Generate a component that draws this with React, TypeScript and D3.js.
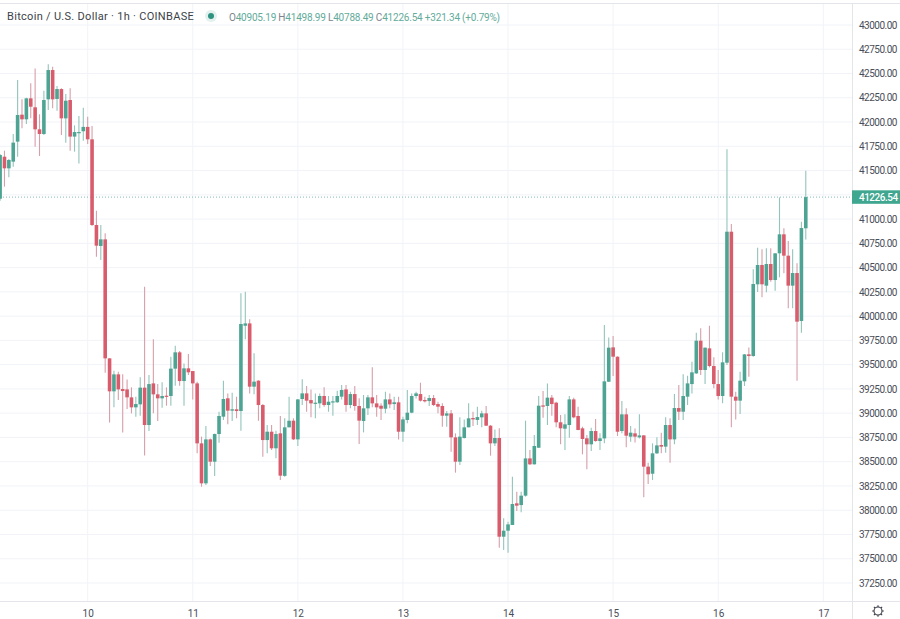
import React, { useRef, useEffect } from 'react';
import * as d3 from 'd3';

const width = 900;
const height = 619;
const axisX = 852;
const axisY = 601;

// hourly candles, first one is 20 hours before the "10" tick
const opens = [
  41210, 41643, 41523, 41592, 41798, 42076, 42028, 42244, 42152, 41925,
  41877, 42234, 42536, 42238, 42340, 42038, 42227, 41850, 41890, 41905,
  41950, 41822, 40939, 40723, 40791, 39565, 39225, 39400, 39249, 39245,
  39163, 39060, 39091, 39263, 38878, 39307, 39194, 39153, 39180, 39177,
  39459, 39627, 39331, 39462, 39434, 39307, 38689, 38277, 38730, 38500,
  38785, 38964, 39153, 39026, 39040, 39022, 39901, 39925, 39273, 39335,
  39084, 38723, 38809, 38638, 38792, 38354, 38854, 38923, 38730, 39146,
  39204, 39135, 39098, 39101, 39177, 39084, 39112, 39112, 39170, 39245,
  39084, 39197, 39074, 38919, 39050, 39163, 39101, 39077, 39046, 39142,
  39094, 39112, 38809, 38930, 39005, 39177, 39197, 39136, 39125, 39156,
  39094, 39074, 38974, 38998, 38751, 38500, 38744, 38854, 38950, 38930,
  38957, 38998, 38871, 38689, 38744, 37727, 37789, 37848, 38071, 38053,
  38150, 38534, 38473, 38644, 39080, 39074, 39160, 39108, 38906, 38840,
  38878, 39142, 38971, 38844, 38741, 38679, 38816, 38713, 38740, 39324,
  39678, 39582, 38816, 38988, 38758, 38792, 38751, 38771, 38449, 38376,
  38586, 38672, 38655, 38878, 38730, 39053, 39015, 39170, 39300, 39410,
  39747, 39445, 39668, 39486, 39300, 39177, 39520, 40870, 39170, 39129,
  39328, 39606, 39589, 40328, 40527, 40314, 40537, 40372, 40647, 40843,
  40623, 40314, 40444, 39950, 40905.19,
];
const closes = [
  41660, 41523, 41609, 41788, 42073, 42028, 42244, 42158, 41925, 41877,
  42227, 42536, 42234, 42340, 42038, 42220, 41850, 41897, 41897, 41950,
  41822, 40939, 40726, 40791, 39565, 39225, 39400, 39245, 39228, 39163,
  39060, 39094, 39263, 38878, 39300, 39194, 39153, 39177, 39173, 39459,
  39627, 39331, 39462, 39421, 39307, 38689, 38277, 38730, 38500, 38785,
  38971, 39146, 39026, 39040, 39022, 39919, 39925, 39273, 39325, 39084,
  38723, 38809, 38638, 38785, 38356, 38854, 38922, 38730, 39142, 39204,
  39129, 39101, 39108, 39177, 39084, 39118, 39122, 39177, 39239, 39084,
  39197, 39074, 38923, 39050, 39163, 39101, 39060, 39046, 39142, 39091,
  39112, 38809, 38936, 39005, 39177, 39204, 39129, 39122, 39156, 39084,
  39067, 38974, 38998, 38751, 38500, 38758, 38854, 38947, 38936, 38960,
  38998, 38871, 38689, 38744, 37727, 37789, 37854, 38064, 38047, 38150,
  38534, 38473, 38662, 39077, 39067, 39160, 39094, 38906, 38844, 38885,
  39142, 38957, 38827, 38734, 38679, 38816, 38713, 38741, 39328, 39675,
  39582, 38809, 38988, 38768, 38799, 38758, 38771, 38449, 38370, 38586,
  38668, 38655, 38878, 38730, 39053, 39015, 39177, 39307, 39421, 39747,
  39445, 39675, 39486, 39300, 39177, 39524, 40870, 39170, 39129, 39335,
  39606, 39589, 40331, 40527, 40328, 40537, 40372, 40647, 40843, 40623,
  40314, 40444, 39943, 40908, 41226.54,
];
const highs = [
  41670, 41705, 41620, 41877, 42434, 42234, 42250, 42399, 42553, 42080,
  42323, 42595, 42570, 42371, 42347, 42289, 42347, 41966, 42062, 42148,
  42055, 41960, 41087, 40939, 40853, 39565, 39438, 39427, 39400, 39348,
  39266, 39170, 39369, 40303, 39393, 39761, 39300, 39318, 39266, 39582,
  39696, 39640, 39513, 39610, 39434, 39324, 38758, 38868, 38740, 38790,
  39015, 39335, 39204, 39211, 39170, 40235, 40252, 39967, 39617, 39340,
  39094, 38878, 38878, 38820, 38970, 38947, 39170, 38947, 39145, 39349,
  39280, 39245, 39204, 39204, 39266, 39177, 39177, 39232, 39290, 39290,
  39221, 39280, 39153, 39187, 39187, 39472, 39187, 39101, 39221, 39204,
  39170, 39170, 38964, 39238, 39204, 39221, 39314, 39170, 39187, 39187,
  39118, 39101, 39022, 39033, 38792, 38957, 38936, 39101, 39015, 39067,
  39026, 39074, 38878, 38833, 38844, 37916, 37880, 38345, 38191, 38191,
  38923, 38620, 38775, 39177, 39228, 39307, 39187, 39118, 38981, 38988,
  39177, 39160, 39067, 38861, 38775, 38850, 38940, 38792, 39908, 39781,
  39795, 39585, 39125, 39050, 38868, 38843, 38988, 38775, 38490, 38689,
  38751, 38799, 38957, 38947, 39197, 39290, 39400, 39386, 39531, 39829,
  39874, 39678, 39901, 39575, 39445, 39627, 41719, 40949, 39222, 39428,
  39610, 39678, 40482, 40705, 40688, 40699, 40699, 40650, 41224, 40905,
  40774, 40688, 40544, 40973, 41498.99,
];
const lows = [
  41190, 41334, 41430, 41540, 41643, 41935, 41980, 42038, 41746, 41650,
  41867, 42124, 42141, 42117, 41867, 41787, 41705, 41695, 41574, 41808,
  41774, 40930, 40613, 40578, 39417, 38905, 39060, 39135, 38802, 39043,
  38998, 38964, 38974, 38565, 38816, 38998, 38919, 39057, 39077, 39077,
  39283, 39283, 39077, 39393, 39142, 38586, 38242, 38260, 38455, 38352,
  38696, 38930, 38885, 38919, 38947, 38820, 39761, 39204, 39194, 38923,
  38552, 38586, 38620, 38535, 38311, 38345, 38854, 38723, 38662, 39084,
  39015, 38957, 38947, 39050, 39067, 39015, 38974, 39108, 39142, 39015,
  39050, 39026, 38682, 38802, 38981, 39060, 38964, 38930, 38998, 39050,
  39033, 38730, 38706, 38895, 38998, 39150, 39120, 39110, 39074, 39074,
  38998, 38861, 38861, 38603, 38387, 38466, 38740, 38854, 38868, 38878,
  38854, 38868, 38562, 38662, 37614, 37590, 37562, 37848, 37992, 37978,
  38140, 38466, 38470, 38640, 38954, 38878, 38974, 38854, 38679, 38620,
  38748, 38947, 38825, 38576, 38421, 38610, 38706, 38620, 38689, 39320,
  39383, 38765, 38792, 38648, 38706, 38699, 38740, 38133, 38270, 38311,
  38579, 38586, 38593, 38490, 38679, 38929, 38929, 39084, 39204, 39403,
  39393, 39300, 39472, 39256, 39142, 39101, 39496, 38854, 38936, 38991,
  39280, 39376, 39582, 40249, 40194, 40245, 40355, 40262, 40400, 40441,
  40080, 40080, 39335, 39830, 40788.49,
];

const dayLabels = ['10', '11', '12', '13', '14', '15', '16', '17'];
const dayIndexes = [20, 44, 68, 92, 116, 140, 164, 188];
const priceTicks = d3.range(37250, 43001, 250);
const lastPrice = 41226.54;
// the last price tag sits on top of this tick, so it gets no label
const hiddenTick = 41250;

const title = 'Bitcoin / U.S. Dollar · 1h · COINBASE';
const ohlcLabels = [
  ['O', '40905.19'],
  ['H', '41498.99'],
  ['L', '40788.49'],
  ['C', '41226.54'],
];
const changeLabel = '+321.34 (+0.79%)';

const upColor = '#4ea493';
const downColor = '#d85c6c';
const upWick = '#93c4ba';
const downWick = '#d79fa9';
const gridColor = '#f1f3f8';
const textColor = '#4a4e59';
const font = 'Roboto, sans-serif';

export default function App() {
  const ref = useRef<SVGSVGElement>(null);

  useEffect(() => {
    if (!ref.current) return;
    const svg = d3.select(ref.current);
    svg.selectAll('*').remove();

    const x = d3.scaleLinear().domain([0, 188]).range([0.1, 823.3]);
    const y = d3.scaleLinear().domain([43000, 37250]).range([25, 583]);

    // grid
    svg
      .append('g')
      .selectAll('line')
      .data(priceTicks)
      .join('line')
      .attr('x1', 0)
      .attr('x2', axisX)
      .attr('y1', d => y(d))
      .attr('y2', d => y(d))
      .attr('stroke', gridColor);
    svg
      .append('g')
      .selectAll('line')
      .data(dayIndexes)
      .join('line')
      .attr('x1', d => x(d))
      .attr('x2', d => x(d))
      .attr('y1', 4)
      .attr('y2', axisY)
      .attr('stroke', gridColor);

    // last price line
    svg
      .append('line')
      .attr('x1', 0)
      .attr('x2', axisX)
      .attr('y1', y(lastPrice))
      .attr('y2', y(lastPrice))
      .attr('stroke', upColor)
      .attr('stroke-opacity', 0.7)
      .attr('stroke-dasharray', '1 2');

    // candles
    const candles = svg
      .append('g')
      .selectAll('g')
      .data(opens.map((o, i) => i))
      .join('g');
    candles
      .append('line')
      .attr('x1', i => x(i))
      .attr('x2', i => x(i))
      .attr('y1', i => y(highs[i]))
      .attr('y2', i => y(lows[i]))
      .attr('stroke-width', 1.1)
      .attr('stroke', i => (closes[i] >= opens[i] ? upWick : downWick));
    candles
      .append('rect')
      .attr('x', i => x(i) - 1.8)
      .attr('width', 3.6)
      .attr('y', i => y(Math.max(opens[i], closes[i])))
      .attr('height', i => Math.max(1.2, Math.abs(y(opens[i]) - y(closes[i]))))
      .attr('fill', i => (closes[i] >= opens[i] ? upColor : downColor));

    // frame
    const frame = '#e3e5ea';
    svg.append('line').attr('x1', 0).attr('x2', width).attr('y1', 3.5).attr('y2', 3.5).attr('stroke', frame);
    svg.append('rect').attr('x', axisX).attr('y', 4).attr('width', width - axisX).attr('height', height).attr('fill', '#fff');
    svg.append('rect').attr('x', 0).attr('y', axisY).attr('width', width).attr('height', height - axisY).attr('fill', '#fff');
    svg.append('line').attr('x1', 0).attr('x2', width).attr('y1', axisY + 0.5).attr('y2', axisY + 0.5).attr('stroke', frame);
    svg.append('line').attr('x1', axisX + 0.5).attr('x2', axisX + 0.5).attr('y1', 4).attr('y2', height).attr('stroke', frame);

    // right axis
    const yAxis = svg
      .append('g')
      .attr('transform', `translate(${axisX}, 0)`)
      .call(
        d3
          .axisRight(y)
          .tickValues(priceTicks.filter(d => d !== hiddenTick))
          .tickSize(0)
          .tickPadding(7)
          .tickFormat(d3.format('.2f') as any)
      );
    yAxis.select('.domain').remove();
    yAxis
      .selectAll('text')
      .attr('fill', textColor)
      .style('font', `10px ${font}`)
      .style('letter-spacing', '-0.5px');

    // time axis
    const xAxis = svg
      .append('g')
      .attr('transform', `translate(0, ${axisY})`)
      .call(
        d3
          .axisBottom(x)
          .tickValues(dayIndexes)
          .tickSize(0)
          .tickPadding(6)
          .tickFormat((d, i) => dayLabels[i])
      );
    xAxis.select('.domain').remove();
    xAxis.selectAll('text').attr('fill', textColor).attr('dy', '1em').style('font', `10px ${font}`);

    // last price tag
    svg.append('rect').attr('x', axisX).attr('y', y(lastPrice) - 6.8).attr('width', width - axisX).attr('height', 13.5).attr('fill', '#3fa68f');
    svg
      .append('text')
      .attr('x', axisX + 7)
      .attr('y', y(lastPrice) + 3.6)
      .attr('fill', '#fff')
      .style('font', `500 10px ${font}`)
      .style('letter-spacing', '-0.5px')
      .text('41226.54');

    // legend
    svg
      .append('text')
      .attr('x', 7)
      .attr('y', 20)
      .attr('fill', '#3c3f48')
      .style('font', `11px ${font}`)
      .style('letter-spacing', '0.3px')
      .text(title);
    svg.append('circle').attr('cx', 211).attr('cy', 16).attr('r', 6).attr('fill', '#e3f1ee');
    svg.append('circle').attr('cx', 211).attr('cy', 16).attr('r', 3).attr('fill', '#2f9180');

    const values = svg
      .append('text')
      .attr('x', 229)
      .attr('y', 21)
      .style('font', `10px ${font}`)
      .style('letter-spacing', '-0.2px')
      .attr('fill', '#63ab9b');
    ohlcLabels.forEach(([k, v]) => {
      values.append('tspan').attr('fill', '#7d828e').text(k);
      values.append('tspan').text(v + ' ');
    });
    values.append('tspan').text(changeLabel);

    // settings gear
    const gear = svg.append('g').attr('transform', 'translate(878, 611)');
    gear.append('circle').attr('r', 4).attr('fill', 'none').attr('stroke', '#3c3f48').attr('stroke-width', 1.1);
    gear
      .selectAll('line')
      .data(d3.range(8))
      .join('line')
      .attr('x1', d => 4 * Math.cos((d * Math.PI) / 4))
      .attr('y1', d => 4 * Math.sin((d * Math.PI) / 4))
      .attr('x2', d => 5.8 * Math.cos((d * Math.PI) / 4))
      .attr('y2', d => 5.8 * Math.sin((d * Math.PI) / 4))
      .attr('stroke', '#3c3f48')
      .attr('stroke-width', 1.1);
  }, []);

  return (
    <svg
      ref={ref}
      width={width}
      height={height}
      style={{ position: 'absolute', left: 0, top: 0, background: '#fff' }}
    />
  );
}
